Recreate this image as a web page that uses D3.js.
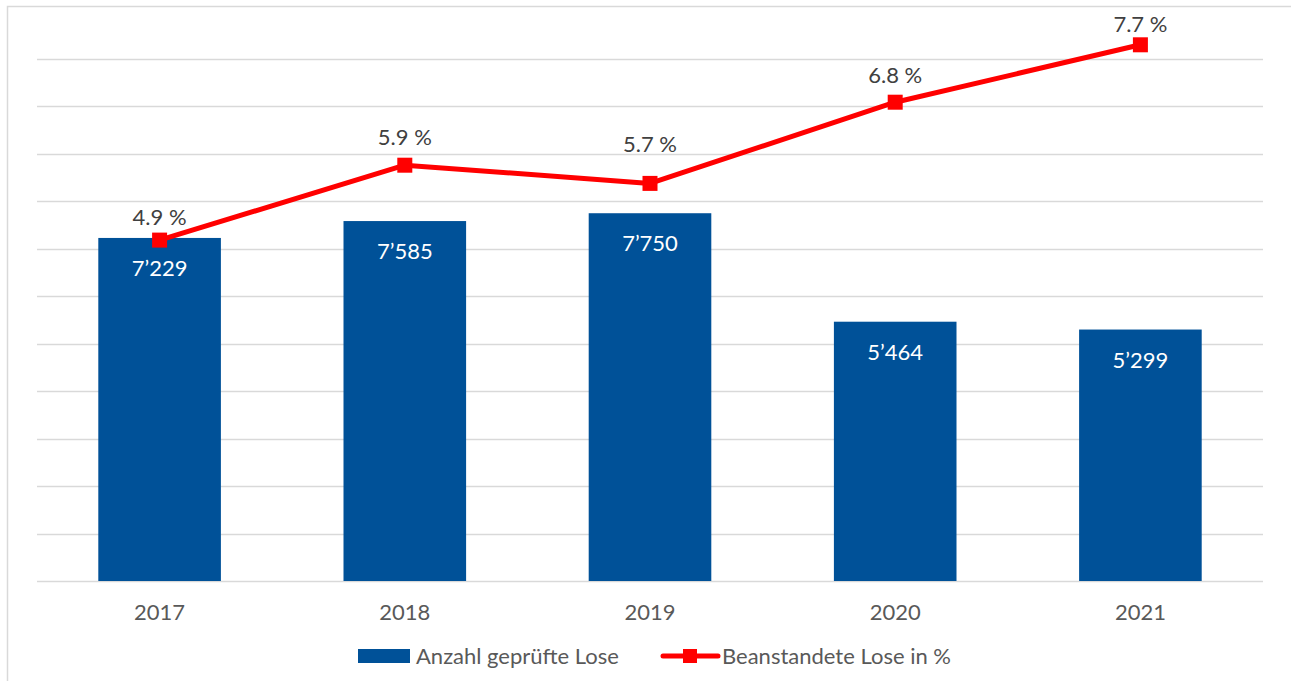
<!DOCTYPE html>
<html>
<head>
<meta charset="utf-8">
<script src="https://cdn.jsdelivr.net/npm/d3@7"></script>
<style>
  body { margin: 0; background: #fff; }
  svg { display: block; font-family: Lato, "Open Sans", sans-serif; }
</style>
</head>
<body>
<div class="canvas"></div>
<script>
// chart data
var years = ["2017", "2018", "2019", "2020", "2021"]
var lose = [7229, 7585, 7750, 5464, 5299]              // Anzahl geprüfte Lose
var beanstandet = [4.87, 5.94, 5.68, 6.84, 7.66]       // Beanstandete Lose in % (labels round to 1 decimal)
var gridTicks = d3.range(0, 11001, 1000)

// label lift above each marker (the labels sit at slightly different heights)
var labelLift = [23, 28, 39, 27, 21]

var width = 1291, height = 681
var plotLeft = 37, plotRight = 1263, plotTop = 59, plotBase = 581

var svg = d3.select(".canvas")
    .append("svg")
    .attr("width", width)
    .attr("height", height)

// frame (cropped on the right/bottom)
svg.append("rect")
    .attr("x", 7.5).attr("y", 6.5)
    .attr("width", width + 20).attr("height", height + 20)
    .attr("fill", "none")
    .attr("stroke", "#d9d9d9")
    .attr("stroke-width", 1.5)

var x = d3.scaleBand()
    .domain(years)
    .range([plotLeft, plotRight])
    .paddingInner(0.5)
    .paddingOuter(0.25)

var y = d3.scaleLinear().domain([0, 11000]).range([plotBase, plotTop])
var y2 = d3.scaleLinear().domain([0, 8]).range([plotBase, 21])

// gridlines
svg.append("g")
  .selectAll("line")
  .data(gridTicks)
  .join("line")
    .attr("x1", plotLeft).attr("x2", plotRight)
    .attr("y1", d => Math.round(y(d)) + 0.5)
    .attr("y2", d => Math.round(y(d)) + 0.5)
    .attr("stroke", "#d9d9d9")
    .attr("stroke-width", 1.5)

// bars
svg.append("g")
  .selectAll("rect")
  .data(lose)
  .join("rect")
    .attr("x", (d, i) => x(years[i]))
    .attr("y", d => y(d))
    .attr("width", x.bandwidth())
    .attr("height", d => plotBase - y(d))
    .attr("fill", "#005198")

var fmt = d => d3.format(",")(d).replace(",", "\u2019")

svg.append("g")
  .selectAll("text")
  .data(lose)
  .join("text")
    .attr("x", (d, i) => x(years[i]) + x.bandwidth() / 2)
    .attr("y", d => y(d) + 38)
    .attr("text-anchor", "middle")
    .attr("fill", "#ffffff")
    .style("font-size", "22px")
    .text(fmt)

// x axis labels
svg.append("g")
  .selectAll("text")
  .data(years)
  .join("text")
    .attr("x", d => x(d) + x.bandwidth() / 2)
    .attr("y", 620)
    .attr("text-anchor", "middle")
    .attr("fill", "#595959")
    .style("font-size", "22px")
    .text(d => d)

// line
var cx = i => x(years[i]) + x.bandwidth() / 2
var line = d3.line()
    .x((d, i) => cx(i))
    .y(d => y2(d))

svg.append("path")
    .datum(beanstandet)
    .attr("d", line)
    .attr("fill", "none")
    .attr("stroke", "#ff0000")
    .attr("stroke-width", 5)
    .attr("stroke-linejoin", "round")

svg.append("g")
  .selectAll("rect")
  .data(beanstandet)
  .join("rect")
    .attr("x", (d, i) => cx(i) - 7.5)
    .attr("y", d => y2(d) - 7.5)
    .attr("width", 15)
    .attr("height", 15)
    .attr("fill", "#ff0000")

svg.append("g")
  .selectAll("text")
  .data(beanstandet)
  .join("text")
    .attr("x", (d, i) => cx(i))
    .attr("y", (d, i) => y2(d) - labelLift[i] + 8)
    .attr("text-anchor", "middle")
    .attr("fill", "#404040")
    .style("font-size", "22px")
    .text(d => d3.format(".1f")(d) + " %")

// legend
var legend = svg.append("g")
legend.append("rect")
    .attr("x", 358).attr("y", 649)
    .attr("width", 52).attr("height", 14)
    .attr("fill", "#005198")
legend.append("text")
    .attr("x", 416).attr("y", 664)
    .attr("fill", "#595959")
    .style("font-size", "22px")
    .text("Anzahl geprüfte Lose")

legend.append("line")
    .attr("x1", 663).attr("x2", 718)
    .attr("y1", 656).attr("y2", 656)
    .attr("stroke", "#ff0000")
    .attr("stroke-width", 5)
    .attr("stroke-linecap", "round")
legend.append("rect")
    .attr("x", 683).attr("y", 649)
    .attr("width", 14).attr("height", 14)
    .attr("fill", "#ff0000")
legend.append("text")
    .attr("x", 722).attr("y", 664)
    .attr("fill", "#595959")
    .style("font-size", "22px")
    .text("Beanstandete Lose in %")
</script>
</body>
</html>
